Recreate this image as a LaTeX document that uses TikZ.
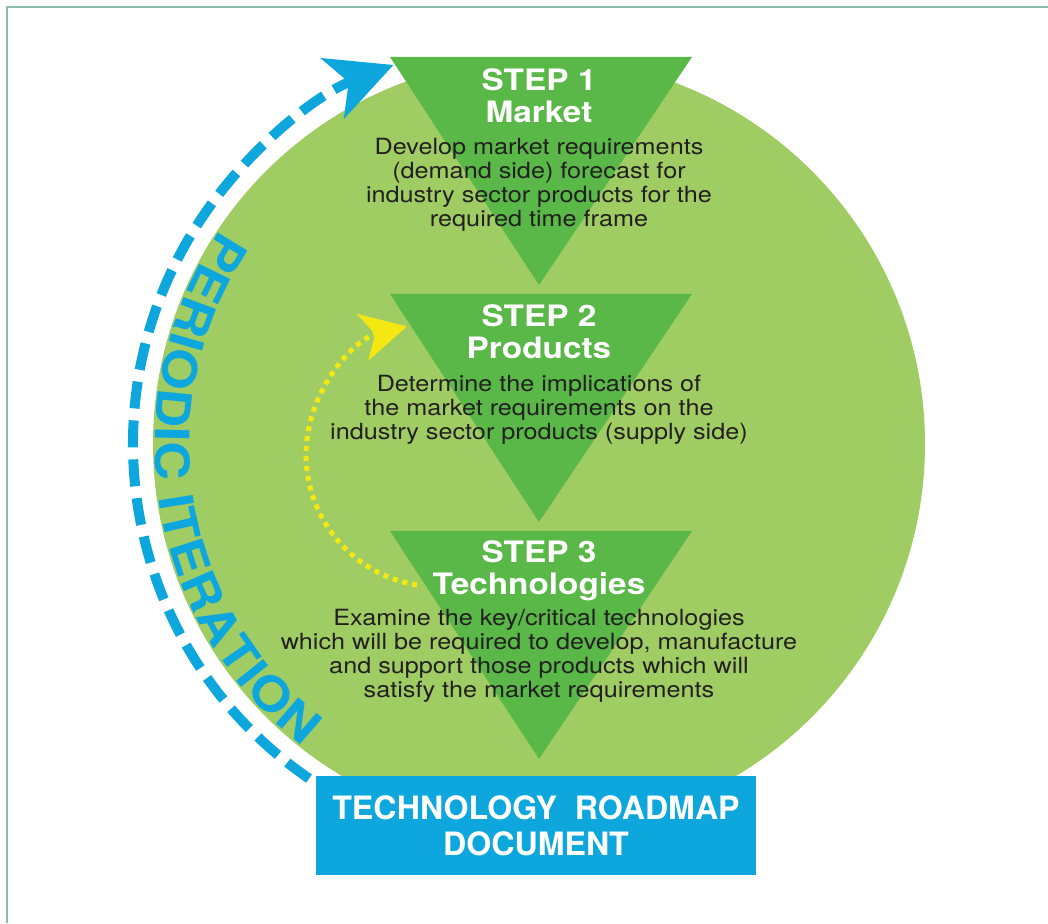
\documentclass[tikz,border=0pt]{standalone}
\usepackage{fontspec}
\newfontfamily\widesans[FakeStretch=1.13]{TeX Gyre Heros}
\newfontfamily\boxsans{TeX Gyre Heros}
\usepackage{tikz}
\usetikzlibrary{arrows.meta,calc,decorations.text}

\definecolor{discgreen}{RGB}{160,205,99}
\definecolor{stepgreen}{RGB}{89,184,71}
\definecolor{iterblue}{RGB}{13,167,222}
\definecolor{loopyellow}{RGB}{245,231,17}
\definecolor{inkgray}{RGB}{35,31,32}
\definecolor{framegray}{RGB}{140,190,172}

\begin{document}
\begin{tikzpicture}[
    x=0.02cm, y=0.02cm,
    tri/.style={fill=stepgreen},
    title/.style={anchor=north, inner sep=0pt, align=center, text=white,
        font=\widesans\bfseries\fontsize{16.8}{18.2}\selectfont},
    body/.style={anchor=north, inner sep=0pt, align=center, text=inkgray,
        font=\widesans\fontsize{12.7}{13.6}\selectfont},
    docbox/.style={fill=iterblue, inner sep=0pt, minimum width=8.8cm, minimum height=1.98cm,
        align=center, text=white, font=\boxsans\bfseries\fontsize{18.3}{20.5}\selectfont}
]
    \useasboundingbox (0,0) rectangle (1048,923);

    % Frame
    \draw[framegray, line width=0.05cm] (7,0) -- (7,916) -- (1048,916);

    % Disc
    \coordinate (hub) at (539,479);
    \fill[discgreen] (hub) circle[radius=386];

    % Step triangles
    \fill[tri] (390,866) -- (692,866) -- (539,638) -- cycle;
    \fill[tri] (390,629) -- (692,629) -- (539,401) -- cycle;
    \fill[tri] (390,392) -- (692,392) -- (539,164) -- cycle;

    % Step texts
    \node[title] (t1) at (539,855) {STEP 1\\Market};
    \node[body] (b1) at (539,785) {Develop market requirements\\(demand side) forecast for\\industry sector products for the\\required time frame};

    \node[title] (t2) at (539,619) {STEP 2\\Products};
    \node[body] (b2) at (539,548) {Determine the implications of\\the market requirements on the\\industry sector products (supply side)};

    \node[title] (t3) at (539,383) {STEP 3\\Technologies};
    \node[body] (b3) at (539,314) {Examine the key/critical technologies\\which will be required to develop, manufacture\\and support those products which will\\satisfy the market requirements};

    % Output document
    \node[docbox] (doc) at (536,97.5) {TECHNOLOGY\ \ ROADMAP\\DOCUMENT};

    % Iteration loop round the disc
    \coordinate (iter-start) at ($(hub)+(235.5:406)$);
    \draw[iterblue, line width=0.2cm, dash pattern=on 0.54cm off 0.24cm,
        -{Stealth[length=1.3cm, width=1.28cm, inset=0.34cm]}]
        (iter-start) arc[start angle=235.5, end angle=111, radius=406];
    \path[decorate, decoration={text along path, text color=iterblue, text align={fit to path},
        text={|\widesans\bfseries\fontsize{27}{27}\selectfont|PERIODIC ITERATION}}]
        ($(hub)+(146:384)$) arc[start angle=146, end angle=232, radius=384];

    % Feedback from step 3 to step 2
    \coordinate (loop-start) at (417,338);
    \draw[loopyellow, line width=0.1cm, dash pattern=on 0.1cm off 0.1cm,
        -{Stealth[length=0.91cm, width=0.96cm, inset=0.26cm]}]
        (loop-start) arc[start angle=260.8, end angle=103.7, radius=132];
\end{tikzpicture}
\end{document}
